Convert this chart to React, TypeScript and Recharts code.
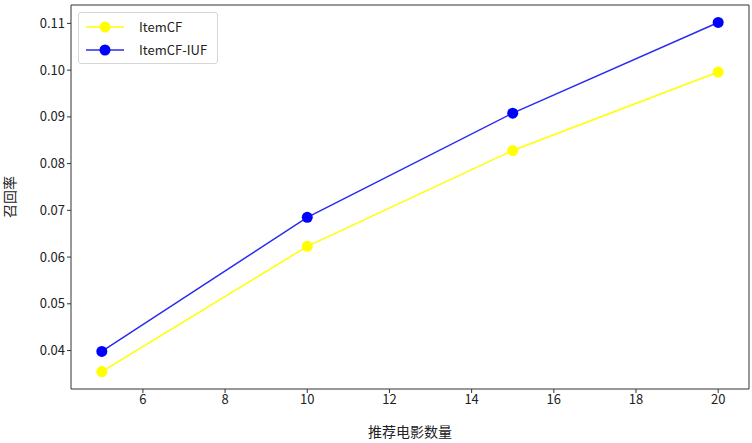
import { LineChart, Line, XAxis, YAxis } from 'recharts'

const counts = [5, 10, 15, 20]
const itemCF = [0.0355, 0.0623, 0.0828, 0.0996]
const itemCFIUF = [0.0398, 0.0685, 0.0908, 0.1102]
const xTicks = [6, 8, 10, 12, 14, 16, 18, 20]
const yTicks = [0.04, 0.05, 0.06, 0.07, 0.08, 0.09, 0.1, 0.11]

const data = counts.map((n, i) => ({ n, itemCF: itemCF[i], itemCFIUF: itemCFIUF[i] }))

const font = '"Noto Sans CJK SC", "DejaVu Sans", sans-serif'
const axisColor = '#333'
const xDomain: [number, number] = [4.25, 20.75]
const yDomain: [number, number] = [0.03177, 0.11394]

const series = [
  { key: 'itemCF', name: 'ItemCF', line: '#ffff00', dot: '#ffff00' },
  { key: 'itemCFIUF', name: 'ItemCF-IUF', line: '#2b2bf0', dot: '#0000ff' },
]

function LegendBox() {
  return (
    <div
      style={{
        position: 'absolute',
        left: 78,
        top: 12,
        border: '1px solid #d6d6d6',
        borderRadius: 3,
        background: 'rgba(255,255,255,0.8)',
        padding: '2px 10px 2px 6px',
        fontFamily: font,
        fontSize: 13,
        color: '#222',
      }}
    >
      {series.map((s) => (
        <div key={s.key} style={{ display: 'flex', alignItems: 'center', height: 23 }}>
          <svg width={40} height={14} style={{ marginRight: 14 }}>
            <line x1={1} y1={7} x2={39} y2={7} stroke={s.line} strokeWidth={1.5} />
            <circle cx={20} cy={7} r={5.5} fill={s.dot} />
          </svg>
          <span>{s.name}</span>
        </div>
      ))}
    </div>
  )
}

// rotated y label, centred on the plot's height
function YLabel({ viewBox }: { viewBox?: { x: number; y: number; width: number; height: number } }) {
  if (!viewBox) return null
  const cx = viewBox.x + 9
  const cy = viewBox.y + viewBox.height / 2
  return (
    <text
      x={cx}
      y={cy}
      transform={`rotate(-90, ${cx}, ${cy})`}
      textAnchor="middle"
      dominantBaseline="central"
      fill="#222"
      fontSize={14}
      fontFamily={font}
    >
      召回率
    </text>
  )
}

export default function App() {
  return (
    <div style={{ position: 'absolute', left: 0, top: 0, width: 752, height: 443, background: '#fff' }}>
      <LineChart width={752} height={443} data={data} margin={{ top: 4, right: 2, left: 0, bottom: 0 }}>
        <XAxis
          dataKey="n"
          type="number"
          domain={xDomain}
          ticks={xTicks}
          allowDataOverflow
          height={54}
          tickSize={4}
          stroke={axisColor}
          tick={{ fill: '#222', fontSize: 13, fontFamily: font }}
          label={{ value: '推荐电影数量', position: 'insideBottom', offset: 6, fill: '#222', fontSize: 14, fontFamily: font }}
        />
        <XAxis xAxisId="top" orientation="top" dataKey="n" type="number" domain={xDomain} height={1} tick={false} tickLine={false} stroke={axisColor} />
        <YAxis
          type="number"
          domain={yDomain}
          ticks={yTicks}
          allowDataOverflow
          width={71}
          tickSize={4}
          stroke={axisColor}
          tickFormatter={(v: number) => v.toFixed(2)}
          tick={{ fill: '#222', fontSize: 13, fontFamily: font }}
          label={<YLabel />}
        />
        <YAxis yAxisId="right" orientation="right" domain={yDomain} width={1} tick={false} tickLine={false} stroke={axisColor} />
        {series.map((s) => (
          <Line
            key={s.key}
            dataKey={s.key}
            name={s.name}
            stroke={s.line}
            strokeWidth={1.5}
            dot={{ r: 5.5, fill: s.dot, stroke: 'none' }}
            activeDot={false}
            isAnimationActive={false}
          />
        ))}
      </LineChart>
      <LegendBox />
    </div>
  )
}
